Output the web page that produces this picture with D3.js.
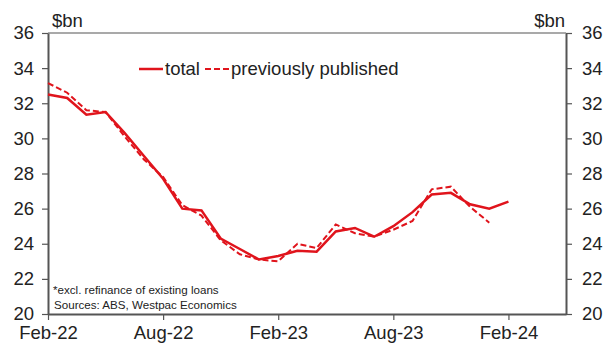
<!DOCTYPE html>
<html><head><meta charset="utf-8">
<script src="https://cdn.jsdelivr.net/npm/d3@7"></script>
<style>body{margin:0;background:#fff}svg{display:block}text{font-family:"Liberation Sans",Arial,sans-serif;fill:#222}</style>
</head><body><svg id="c" width="606" height="345"></svg>
<script>
const months = ["Feb-22","Mar-22","Apr-22","May-22","Jun-22","Jul-22","Aug-22","Sep-22","Oct-22","Nov-22","Dec-22","Jan-23","Feb-23","Mar-23","Apr-23","May-23","Jun-23","Jul-23","Aug-23","Sep-23","Oct-23","Nov-23","Dec-23","Jan-24","Feb-24"];
const total = [32.5,32.3,31.35,31.5,30.3,29.0,27.7,26.0,25.9,24.3,23.7,23.1,23.3,23.6,23.55,24.7,24.9,24.4,25.0,25.8,26.8,26.9,26.25,26.0,26.4];
const prevPublished = [33.15,32.6,31.6,31.5,30.1,28.8,27.8,26.2,25.6,24.2,23.4,23.1,23.0,24.0,23.75,25.1,24.6,24.4,24.8,25.3,27.1,27.25,26.1,25.2];
const xTickLabels = ["Feb-22","Aug-22","Feb-23","Aug-23","Feb-24"];
const yTicks = [20,22,24,26,28,30,32,34,36];

const svg = d3.select("#c");
const L=48, R=566, T=33, B=314;
const x = d3.scaleLinear().domain([0,27]).range([L,R]);
const y = d3.scaleLinear().domain([20,36]).range([B,T]);
const axisCol="#555";
const fs=18.5;

svg.append("line").attr("x1",L).attr("x2",R).attr("y1",T).attr("y2",T).attr("stroke",axisCol).attr("stroke-width",1.2);

const styleAxis = g => {
  g.select(".domain").attr("stroke",axisCol).attr("stroke-width",2);
  g.selectAll(".tick line").attr("stroke",axisCol).attr("stroke-width",1.2);
  g.selectAll(".tick text").attr("font-size",fs).attr("fill","#222").style("font-family","Liberation Sans, Arial, sans-serif");
};
svg.append("g").attr("transform",`translate(${L},0)`)
  .call(d3.axisLeft(y).tickValues(yTicks).tickSize(6).tickSizeOuter(0).tickPadding(8)).call(styleAxis);
svg.append("g").attr("transform",`translate(${R},0)`)
  .call(d3.axisRight(y).tickValues(yTicks).tickSize(6).tickSizeOuter(0).tickPadding(10)).call(styleAxis);
const xIdx = xTickLabels.map(l=>months.indexOf(l));
svg.append("g").attr("transform",`translate(0,${B})`)
  .call(d3.axisBottom(x).tickValues(xIdx).tickFormat(i=>months[i]).tickSize(6).tickSizeOuter(0).tickPadding(6)).call(styleAxis);

svg.append("text").attr("x",52).attr("y",27).attr("font-size",fs).text("$bn");
svg.append("text").attr("x",565).attr("y",27).attr("font-size",fs).attr("text-anchor","end").text("$bn");

const red="#e0141c";
const line = d3.line().x((d,i)=>x(i)).y(d=>y(d));
svg.append("path").datum(prevPublished).attr("d",line).attr("fill","none").attr("stroke",red).attr("stroke-width",2).attr("stroke-dasharray","6,3");
svg.append("path").datum(total).attr("d",line).attr("fill","none").attr("stroke",red).attr("stroke-width",2.5);

svg.append("line").attr("x1",139).attr("x2",163).attr("y1",69).attr("y2",69).attr("stroke",red).attr("stroke-width",2.5);
svg.append("text").attr("x",165).attr("y",75).attr("font-size",fs).text("total");
svg.append("line").attr("x1",205).attr("x2",229).attr("y1",69).attr("y2",69).attr("stroke",red).attr("stroke-width",2).attr("stroke-dasharray","6,3");
svg.append("text").attr("x",231).attr("y",75).attr("font-size",fs).text("previously published");

svg.append("text").attr("x",53).attr("y",294).attr("font-size",11.6).text("*excl. refinance of existing loans");
svg.append("text").attr("x",54).attr("y",309).attr("font-size",11.6).text("Sources: ABS, Westpac Economics");
</script></body></html>
